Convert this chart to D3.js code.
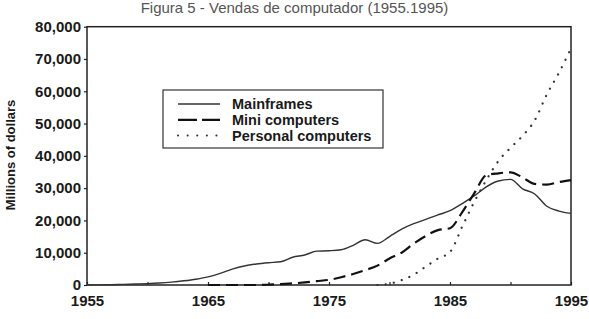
<!DOCTYPE html>
<html>
<head>
<meta charset="utf-8">
<script src="https://cdn.jsdelivr.net/npm/d3@7/dist/d3.min.js"></script>
<style>
  html, body { margin: 0; padding: 0; background: #fff; }
  svg { display: block; }
  .tick text { font-family: "Liberation Sans", Arial, sans-serif; font-weight: bold; font-size: 15px; fill: #1a1a1a; }
</style>
</head>
<body>
<svg id="chart" width="589" height="319"></svg>
<script>
// ---- data ----
const title = "Figura 5 - Vendas de computador (1955.1995)";
const yAxisLabel = "Millions of dollars";
const seriesNames = ["Mainframes", "Mini computers", "Personal computers"];

const mainframeYears = [1955,1956,1957,1958,1959,1960,1961,1962,1963,1964,1965,1966,1967,1968,1969,1970,1971,1972,1973,1974,1975,1976,1977,1978,1979,1980,1981,1982,1983,1984,1985,1986,1987,1988,1989,1990,1991,1992,1993,1994,1995];
const mainframeValues = [0,50,100,200,300,400,600,900,1300,1800,2500,3600,4900,5900,6500,6900,7200,8600,9300,10500,10600,10900,12300,14000,12900,15000,17300,19000,20300,21700,23000,25200,27600,30400,32200,32700,29800,28200,24400,22900,22200];

const miniYears = [1965,1966,1967,1968,1969,1970,1971,1972,1973,1974,1975,1976,1977,1978,1979,1980,1981,1982,1983,1984,1985,1986,1987,1988,1989,1990,1991,1992,1993,1994,1995];
const miniValues = [0,0,0,0,0,100,300,500,800,1200,1600,2400,3400,4600,6000,8200,10000,12800,15200,17000,17600,22500,28400,34000,34600,34900,33300,31300,31100,31900,32500];

const pcYears = [1979,1980,1981,1982,1983,1984,1985,1986,1987,1988,1989,1990,1991,1992,1993,1994,1995];
const pcValues = [0,400,1500,3200,5700,8200,10200,18000,25700,32500,38400,42500,46200,51000,59000,65700,73300];

const yTicks = [0,10000,20000,30000,40000,50000,60000,70000,80000];
const xTicks = [1955,1960,1965,1970,1975,1980,1985,1990,1995];
const xTickLabels = [1955,1965,1975,1985,1995];

// ---- layout ----
const svg = d3.select("#chart");
const mLeft = 87, mRight = 571, mTop = 26.7, mBottom = 285;
const x = d3.scaleLinear().domain([1955, 1995]).range([mLeft, mRight]);
const y = d3.scaleLinear().domain([0, 80000]).range([mBottom, mTop]);

// title
svg.append("text")
  .attr("x", 294.5).attr("y", 13)
  .attr("text-anchor", "middle")
  .attr("font-family", "'Liberation Sans', Arial, sans-serif")
  .attr("font-size", 15)
  .attr("fill", "#555")
  .text(title);

// y axis
const yAxis = svg.append("g")
  .attr("transform", `translate(${mLeft},0)`)
  .call(d3.axisLeft(y).tickValues(yTicks).tickSize(3).tickPadding(3).tickFormat(d3.format(",")));
yAxis.select(".domain").remove();
yAxis.selectAll(".tick line").attr("stroke", "#222").attr("stroke-width", 1.2);

// x axis
const xAxis = svg.append("g")
  .attr("transform", `translate(0,${mBottom})`)
  .call(d3.axisBottom(x).tickValues(xTicks).tickSize(-3).tickPadding(10)
    .tickFormat(d => xTickLabels.includes(d) ? String(d) : ""));
xAxis.select(".domain").remove();
xAxis.selectAll(".tick line").attr("stroke", "#222").attr("stroke-width", 1.2);

// frame
svg.append("rect")
  .attr("x", mLeft).attr("y", mTop)
  .attr("width", mRight - mLeft).attr("height", mBottom - mTop)
  .attr("fill", "none").attr("stroke", "#222").attr("stroke-width", 1.5);

// y label
svg.append("text")
  .attr("transform", "translate(14.5,155) rotate(-90)")
  .attr("text-anchor", "middle")
  .attr("font-family", "'Liberation Sans', Arial, sans-serif")
  .attr("font-weight", "bold")
  .attr("font-size", 13)
  .attr("fill", "#1a1a1a")
  .text(yAxisLabel);

// lines
const line = d3.line().x(d => x(d[0])).y(d => y(d[1])).curve(d3.curveMonotoneX);
const zip = (a, b) => a.map((v, i) => [v, b[i]]);

svg.append("path").datum(zip(mainframeYears, mainframeValues))
  .attr("d", line).attr("fill", "none").attr("stroke", "#333").attr("stroke-width", 1.4);

svg.append("path").datum(zip(miniYears, miniValues))
  .attr("d", line).attr("fill", "none").attr("stroke", "#111").attr("stroke-width", 2.2)
  .attr("stroke-dasharray", "12,6");

svg.append("path").datum(zip(pcYears, pcValues))
  .attr("d", line).attr("fill", "none").attr("stroke", "#333").attr("stroke-width", 2.2)
  .attr("stroke-linecap", "round").attr("stroke-dasharray", "0.1,8.2");

// legend
const lg = svg.append("g");
lg.append("rect").attr("x", 163).attr("y", 90).attr("width", 220).attr("height", 58)
  .attr("fill", "#fff").attr("stroke", "#333").attr("stroke-width", 1.2);
const legendStyles = [
  {stroke: "#333", width: 1.4, dash: null, cap: "butt"},
  {stroke: "#111", width: 2.2, dash: "19,5", cap: "butt"},
  {stroke: "#333", width: 2.0, dash: "0.1,9.5", cap: "round"}
];
seriesNames.forEach((name, i) => {
  const yy = 104 + i * 15.8;
  const st = legendStyles[i];
  const l = lg.append("line").attr("x1", 178).attr("x2", 220).attr("y1", yy).attr("y2", yy)
    .attr("stroke", st.stroke).attr("stroke-width", st.width).attr("stroke-linecap", st.cap);
  if (st.dash) l.attr("stroke-dasharray", st.dash);
  lg.append("text").attr("x", 232).attr("y", yy + 5)
    .attr("font-family", "'Liberation Sans', Arial, sans-serif")
    .attr("font-weight", "bold").attr("font-size", 14.5).attr("fill", "#1a1a1a")
    .text(name);
});
</script>
</body>
</html>
